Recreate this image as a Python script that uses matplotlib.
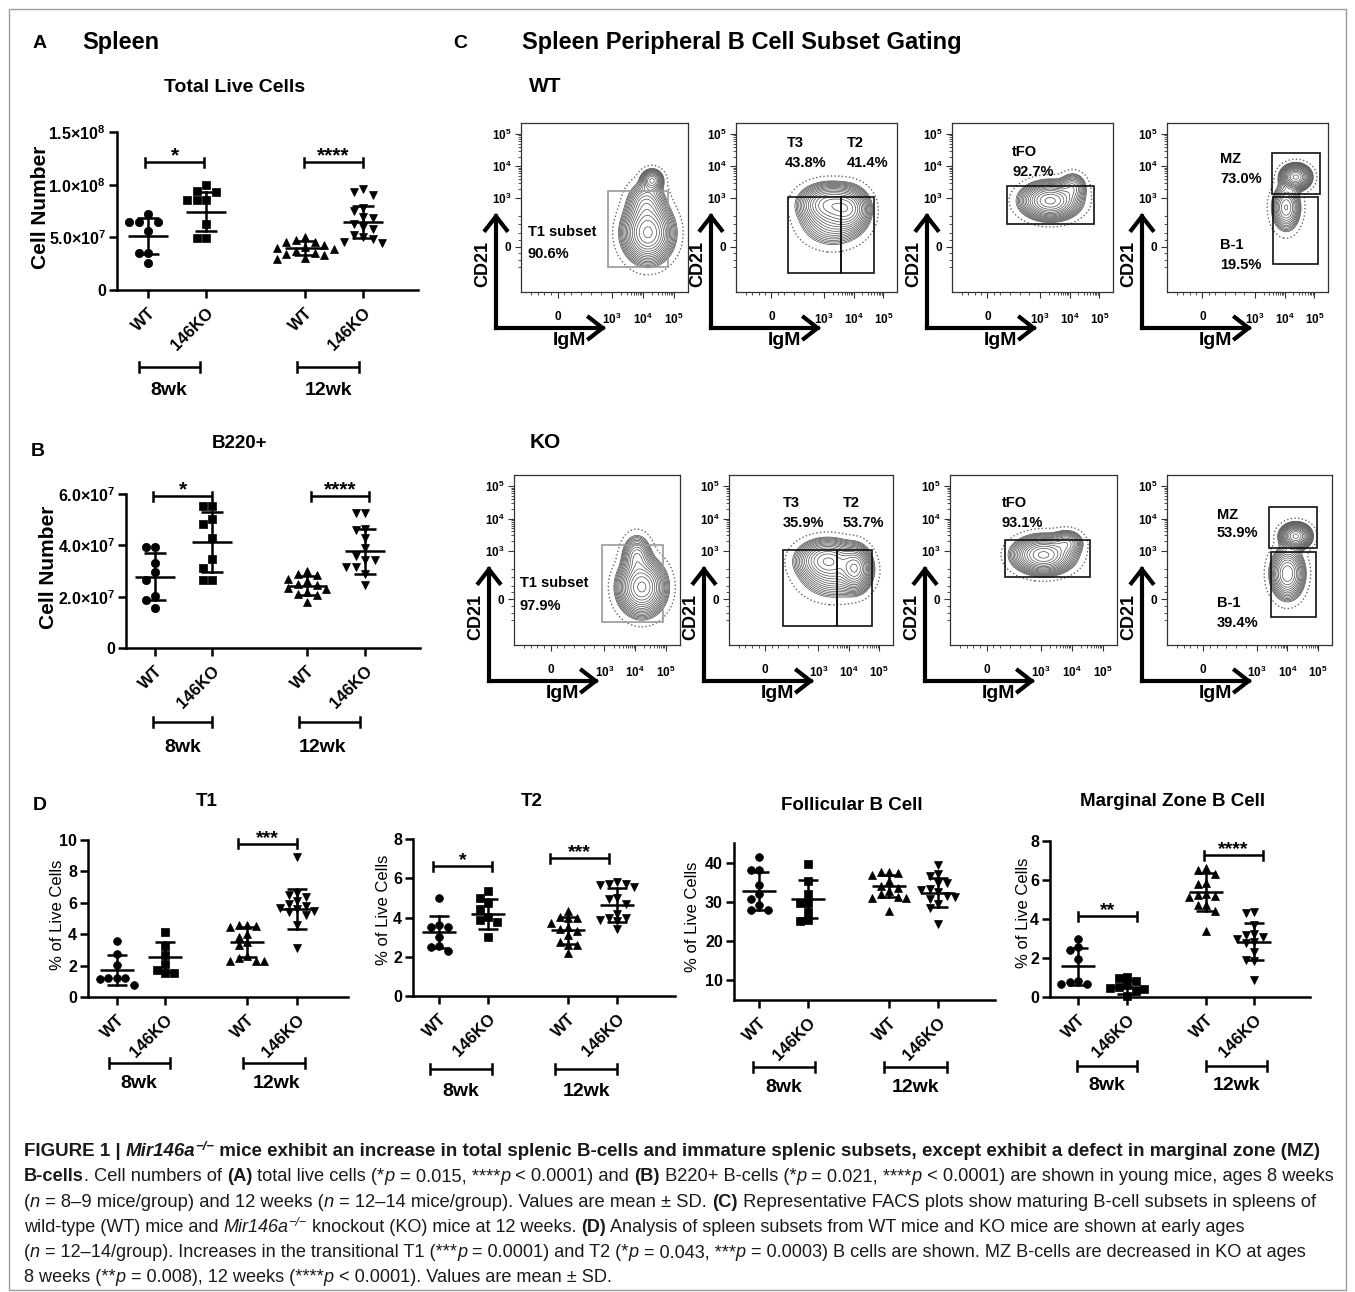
import numpy as np
import matplotlib
matplotlib.use('Agg')
import matplotlib.pyplot as plt
from matplotlib.lines import Line2D
from matplotlib.patches import Rectangle, FancyArrowPatch
from matplotlib import font_manager

# ---------------------------------------------------------------- data
genotypes = ['WT', '146KO', 'WT', '146KO']
ages = ['8wk', '12wk']

# Panel A : total live cells (units of 1e7 cells)
live_wt8 = [7.2, 6.5, 6.5, 6.5, 5.6, 3.5, 3.5, 2.6]
live_ko8 = [10.0, 9.4, 9.3, 8.5, 8.5, 8.5, 6.3, 4.9, 4.9]
live_wt12 = [5.0, 4.7, 4.6, 4.6, 4.3, 4.1, 4.0, 3.9, 3.7, 3.5, 3.4, 3.3, 3.0, 2.9]
live_ko12 = [9.6, 9.3, 9.0, 7.8, 7.5, 6.9, 6.8, 6.3, 6.0, 5.8, 5.2, 5.0, 4.8, 4.6, 4.5]
live_mean = [5.1, 7.45, 3.98, 6.44]
live_sd = [1.7, 1.85, 0.66, 1.5]

# Panel B : B220+ cells (units of 1e7 cells)
b220_wt8 = [3.92, 3.92, 3.33, 2.95, 2.63, 2.03, 1.88, 1.54]
b220_ko8 = [5.54, 5.54, 5.03, 4.83, 4.27, 3.46, 3.13, 2.63, 2.63]
b220_wt12 = [3.0, 2.9, 2.85, 2.7, 2.6, 2.5, 2.45, 2.35, 2.3, 2.2, 2.1, 2.05, 1.8]
b220_ko12 = [5.25, 5.25, 4.62, 4.6, 4.27, 3.89, 3.6, 3.43, 3.43, 3.17, 3.17, 2.9, 2.46]
b220_mean = [2.78, 4.12, 2.42, 3.76]
b220_sd = [0.92, 1.17, 0.37, 0.88]

# Panel D : % of live cells
t1_wt8 = [3.55, 2.72, 2.02, 1.21, 1.21, 1.21, 1.17, 0.74]
t1_ko8 = [4.15, 3.23, 2.66, 2.09, 1.74, 1.53, 1.53]
t1_wt12 = [4.6, 4.6, 4.55, 4.45, 4.0, 3.8, 3.5, 3.3, 2.6, 2.5, 2.3, 2.3, 2.3]
t1_ko12 = [8.9, 6.6, 6.5, 6.4, 6.1, 5.9, 5.8, 5.7, 5.6, 5.5, 5.4, 5.2, 4.6, 3.1]
t1_mean = [1.74, 2.55, 3.51, 5.6]
t1_sd = [0.95, 0.96, 0.94, 1.3]

t2_wt8 = [5.0, 3.64, 3.52, 3.52, 3.0, 2.54, 2.5, 2.28]
t2_ko8 = [5.35, 5.0, 4.75, 4.45, 4.05, 3.85, 3.75, 3.0]
t2_wt12 = [4.35, 4.05, 4.0, 3.95, 3.7, 3.5, 3.4, 3.3, 3.1, 2.75, 2.6, 2.6, 2.2]
t2_ko12 = [5.8, 5.7, 5.7, 5.65, 5.55, 5.0, 4.95, 4.7, 4.2, 4.0, 3.95, 3.85, 3.8, 3.4]
t2_mean = [3.27, 4.17, 3.35, 4.63]
t2_sd = [0.83, 0.75, 0.70, 0.85]

fo_wt8 = [41.5, 38.0, 38.0, 34.3, 31.9, 30.7, 29.3, 28.0, 28.0]
fo_ko8 = [39.6, 35.3, 32.1, 29.7, 29.7, 27.3, 25.3, 25.2]
fo_wt12 = [37.7, 37.6, 37.4, 36.8, 35.2, 34.0, 33.5, 32.8, 32.0, 31.3, 31.0, 30.9, 27.8]
fo_ko12 = [39.5, 37.0, 36.5, 34.9, 34.8, 33.2, 33.0, 32.5, 31.5, 31.3, 30.8, 29.5, 28.5, 24.3]
fo_mean = [32.7, 30.8, 34.0, 32.3]
fo_sd = [4.8, 4.9, 2.85, 3.7]

mz_wt8 = [3.0, 2.57, 2.4, 1.97, 0.8, 0.77, 0.68, 0.68]
mz_ko8 = [1.05, 0.95, 0.8, 0.6, 0.5, 0.45, 0.4, 0.3, 0.05]
mz_wt12 = [6.6, 6.5, 6.3, 5.85, 5.8, 5.3, 5.25, 5.2, 5.15, 4.7, 4.7, 4.4, 3.4]
mz_ko12 = [4.35, 4.3, 3.7, 3.25, 3.2, 3.1, 2.95, 2.8, 2.75, 2.3, 1.9, 1.85, 0.85]
mz_mean = [1.58, 0.51, 5.39, 2.83]
mz_sd = [0.94, 0.34, 0.98, 0.95]

# Panel C : FACS gating (density components: x, y, sx, sy, weight; axes fraction)
facs_wt = [
    dict(comps=[(0.76, 0.35, 0.068, 0.08, 1.0), (0.785, 0.66, 0.032, 0.032, 0.40), (0.75, 0.52, 0.055, 0.065, 0.30)],
         gates=[(0.52, 0.149, 0.88, 0.595)], gcol='#9a9a9a',
         labels=[(0.04, 0.355, 'T1 subset'), (0.04, 0.225, '90.6%')]),
    dict(comps=[(0.58, 0.52, 0.085, 0.055, 1.0), (0.70, 0.49, 0.06, 0.06, 0.8), (0.60, 0.42, 0.095, 0.07, 0.35)],
         gates=[(0.32, 0.113, 0.65, 0.565), (0.65, 0.113, 0.86, 0.565)], gcol='#111111',
         labels=[(0.317, 0.88, 'T3'), (0.305, 0.763, '43.8%'), (0.69, 0.88, 'T2'), (0.69, 0.763, '41.4%')]),
    dict(comps=[(0.61, 0.54, 0.082, 0.05, 1.0), (0.75, 0.62, 0.04, 0.04, 0.25)],
         gates=[(0.34, 0.405, 0.88, 0.625)], gcol='#111111',
         labels=[(0.373, 0.83, 'tFO'), (0.373, 0.71, '92.7%')]),
    dict(comps=[(0.80, 0.68, 0.042, 0.034, 1.0), (0.74, 0.50, 0.042, 0.065, 0.40)],
         gates=[(0.65, 0.577, 0.95, 0.82), (0.66, 0.167, 0.94, 0.56)], gcol='#111111',
         labels=[(0.33, 0.787, 'MZ'), (0.33, 0.669, '73.0%'), (0.33, 0.278, 'B-1'), (0.33, 0.16, '19.5%')]),
]
facs_ko = [
    dict(comps=[(0.77, 0.34, 0.065, 0.075, 1.0), (0.74, 0.52, 0.042, 0.06, 0.30)],
         gates=[(0.53, 0.135, 0.895, 0.59)], gcol='#9a9a9a',
         labels=[(0.036, 0.365, 'T1 subset'), (0.036, 0.23, '97.9%')]),
    dict(comps=[(0.60, 0.50, 0.085, 0.055, 0.8), (0.77, 0.45, 0.045, 0.06, 1.0), (0.64, 0.42, 0.10, 0.07, 0.30)],
         gates=[(0.33, 0.11, 0.66, 0.56), (0.66, 0.11, 0.87, 0.56)], gcol='#111111',
         labels=[(0.33, 0.835, 'T3'), (0.33, 0.718, '35.9%'), (0.695, 0.835, 'T2'), (0.695, 0.718, '53.7%')]),
    dict(comps=[(0.56, 0.53, 0.082, 0.05, 1.0), (0.70, 0.60, 0.045, 0.035, 0.30)],
         gates=[(0.33, 0.40, 0.84, 0.62)], gcol='#111111',
         labels=[(0.31, 0.835, 'tFO'), (0.31, 0.718, '93.1%')]),
    dict(comps=[(0.78, 0.64, 0.042, 0.034, 1.0), (0.73, 0.42, 0.048, 0.07, 0.6)],
         gates=[(0.62, 0.57, 0.91, 0.81), (0.63, 0.165, 0.905, 0.547)], gcol='#111111',
         labels=[(0.30, 0.765, 'MZ'), (0.30, 0.66, '53.9%'), (0.30, 0.247, 'B-1'), (0.30, 0.13, '39.4%')]),
]

# ---------------------------------------------------------------- setup
W, H, DPI = 1355, 1292, 100
plt.rcParams['font.family'] = ['Liberation Sans', 'DejaVu Sans']
plt.rcParams['mathtext.fontset'] = 'custom'
plt.rcParams['mathtext.rm'] = 'Liberation Sans'
plt.rcParams['mathtext.bf'] = 'Liberation Sans:bold'
plt.rcParams['mathtext.it'] = 'Liberation Sans:italic'

fig = plt.figure(figsize=(W / DPI, H / DPI), dpi=DPI)
renderer = fig.canvas.get_renderer()


def FX(x):
    return x / W


def FY(y):
    return 1 - y / H


def ftext(x, y, s, **kw):
    return fig.text(FX(x), FY(y), s, **kw)


def add_ax(x0, y0, x1, y1):
    return fig.add_axes([FX(x0), FY(y1), (x1 - x0) / W, (y1 - y0) / H])


def fline(xs, ys, **kw):
    fig.add_artist(Line2D([FX(x) for x in xs], [FY(y) for y in ys],
                          transform=fig.transFigure, **kw))


# outer frame
fig.add_artist(Rectangle((FX(9), FY(1290)), (1346 - 9) / W, (1290 - 9) / H,
                         transform=fig.transFigure, fill=False, ec='#9a9a9a', lw=1.0))


def swarm(vals, ppu, d):
    order = np.argsort(-vals, kind='stable')
    placed = []
    offs = np.zeros(len(vals))
    for i in order:
        y = vals[i] * ppu
        xo = 0.0
        for k in [0, -1, 1, -2, 2, -3, 3, -4, 4]:
            xo = k * d
            if all((xo - px) ** 2 + (y - py) ** 2 >= (0.92 * d) ** 2 for px, py in placed):
                break
        placed.append((xo, y))
        offs[i] = xo
    return offs


def dot_panel(box, cat_px, data, means, sds, ylim, yticks, yticklabels, ms, d_px,
              tick_fs, xt_fs, mean_hw, cap_hw, sigs, gbars, title, ylabel, ylab_fs,
              ylab_w, star_fs=15):
    x0, y0, x1, y1 = box
    ax = add_ax(x0, y0, x1, y1)
    ax.set_xlim(x0, x1)
    ax.set_ylim(*ylim)
    ppu = (y1 - y0) / (ylim[1] - ylim[0])
    markers = ['o', 's', '^', 'v']
    msz = [ms, ms * 0.92, ms, ms]
    for i, vals in enumerate(data):
        vals = np.asarray(vals, float)
        offs = swarm(vals, ppu, d_px)
        ax.plot(cat_px[i] + offs, vals, ls='none', marker=markers[i], ms=msz[i],
                color='black', mec='black', mew=0.5, zorder=3, clip_on=False)
        m, s = means[i], sds[i]
        c = cat_px[i]
        ax.plot([c - mean_hw, c + mean_hw], [m, m], color='black', lw=1.8, zorder=4,
                solid_capstyle='butt')
        ax.plot([c, c], [m - s, m + s], color='black', lw=1.8, zorder=4)
        for yy in (m - s, m + s):
            ax.plot([c - cap_hw, c + cap_hw], [yy, yy], color='black', lw=1.8, zorder=4,
                    solid_capstyle='butt')
    for sp in ('top', 'right'):
        ax.spines[sp].set_visible(False)
    for sp in ('left', 'bottom'):
        ax.spines[sp].set_linewidth(1.8)
    ax.set_yticks(yticks)
    ax.set_yticklabels(yticklabels, fontsize=tick_fs, fontweight='bold')
    ax.set_xticks(cat_px)
    ax.set_xticklabels(genotypes, rotation=45, ha='right', va='top',
                       rotation_mode='anchor', fontsize=xt_fs, fontweight='bold')
    ax.tick_params(axis='both', length=6, width=1.8, pad=2)
    ax.tick_params(axis='x', pad=5)
    ax.patch.set_alpha(0)
    # significance bars
    for (xa, xb, yv, stars) in sigs:
        cap = 4.5 / ppu
        ax.plot([xa, xb], [yv, yv], color='black', lw=1.8, clip_on=False,
                solid_capstyle='butt')
        for xx in (xa, xb):
            ax.plot([xx, xx], [yv - cap, yv + cap], color='black', lw=1.8, clip_on=False)
        ax.text((xa + xb) / 2, yv + 1.0 / ppu, stars, ha='center', va='baseline',
                fontsize=star_fs, fontweight='bold', clip_on=False)
    # age group bars
    for (ga, gb, gy, lab, lx, ly) in gbars:
        fline([ga, gb], [gy, gy], color='black', lw=1.8, solid_capstyle='butt')
        for xx in (ga, gb):
            fline([xx, xx], [gy - 5, gy + 5], color='black', lw=1.8)
        ftext(lx, ly, lab, ha='center', va='center', fontsize=14, fontweight='bold')
    t, tx, ty, tfs = title
    ftext(tx, ty, t, ha='center', va='center', fontsize=tfs, fontweight='bold')
    lt, lx, ly = ylabel
    ftext(lx, ly, lt, ha='center', va='center', rotation=90, fontsize=ylab_fs,
          fontweight=ylab_w)
    return ax


def sci(m, e):
    return r'$\mathbf{%s{\times}10^{%d}}$' % (m, e)


# ---------------------------------------------------------------- panel A
ftext(40, 43, 'A', ha='center', va='center', fontsize=14, fontweight='bold')
ftext(82, 43, 'Spleen', ha='left', va='center', fontsize=17, fontweight='bold')
dot_panel((117, 132, 418, 290), [148, 206, 305, 363],
          [np.array(v) * 1e7 for v in (live_wt8, live_ko8, live_wt12, live_ko12)],
          np.array(live_mean) * 1e7, np.array(live_sd) * 1e7,
          (0, 1.5e8), [0, 5e7, 1e8, 1.5e8], ['0', sci('5.0', 7), sci('1.0', 8), sci('1.5', 8)],
          6.0, 9.5, 11.5, 12, 20, 11,
          [(145, 204, 1.215e8, '*'), (304, 363, 1.215e8, '****')],
          [(139, 200, 367, ages[0], 169, 391), (297, 359, 367, ages[1], 328, 391)],
          ('Total Live Cells', 235, 88, 14), ('Cell Number', 40, 207), 15, 'bold')

# ---------------------------------------------------------------- panel B
ftext(38, 451, 'B', ha='center', va='center', fontsize=14, fontweight='bold')
dot_panel((126, 494, 420, 648), [155, 212, 307, 365],
          [np.array(v) * 1e7 for v in (b220_wt8, b220_ko8, b220_wt12, b220_ko12)],
          np.array(b220_mean) * 1e7, np.array(b220_sd) * 1e7,
          (0, 6e7), [0, 2e7, 4e7, 6e7], ['0', sci('2.0', 7), sci('4.0', 7), sci('6.0', 7)],
          6.0, 9.5, 11.5, 12, 20, 11,
          [(153, 212, 5.92e7, '*'), (311, 369, 5.92e7, '****')],
          [(153, 212, 722, ages[0], 183, 747), (299, 360, 722, ages[1], 323, 747)],
          ('B220+', 240, 444, 13.5), ('Cell Number', 48, 567), 15, 'bold')

# ---------------------------------------------------------------- panel D
ftext(40, 806, 'D', ha='center', va='center', fontsize=14, fontweight='bold')
dkw = dict(ms=5.6, d_px=8.5, tick_fs=11.5, xt_fs=12, mean_hw=17, cap_hw=10,
           ylab_fs=12, ylab_w='normal', star_fs=14)
dot_panel((88, 840, 348, 997), [117, 165, 247, 297],
          [t1_wt8, t1_ko8, t1_wt12, t1_ko12], t1_mean, t1_sd,
          (0, 10), [0, 2, 4, 6, 8, 10], ['0', '2', '4', '6', '8', '10'],
          sigs=[(238, 297, 9.75, '***')],
          gbars=[(109, 170, 1063, ages[0], 139, 1084), (243, 305, 1063, ages[1], 276, 1084)],
          title=('T1', 207, 802, 13.5), ylabel=('% of Live Cells', 57, 915), **dkw)
dot_panel((413, 839, 675, 996), [439, 488, 568, 617],
          [t2_wt8, t2_ko8, t2_wt12, t2_ko12], t2_mean, t2_sd,
          (0, 8), [0, 2, 4, 6, 8], ['0', '2', '4', '6', '8'],
          sigs=[(433, 492, 6.62, '*'), (550, 609, 7.03, '***')],
          gbars=[(430, 492, 1069, ages[0], 461, 1091), (555, 617, 1069, ages[1], 586, 1091)],
          title=('T2', 532, 802, 13.5), ylabel=('% of Live Cells', 383, 910), **dkw)
dot_panel((734, 843, 995, 1000), [759, 808, 889, 938],
          [fo_wt8, fo_ko8, fo_wt12, fo_ko12], fo_mean, fo_sd,
          (5, 45), [10, 20, 30, 40], ['10', '20', '30', '40'],
          sigs=[],
          gbars=[(753, 815, 1067, ages[0], 784, 1088), (884, 947, 1067, ages[1], 916, 1088)],
          title=('Follicular B Cell', 852, 806, 13.5), ylabel=('% of Live Cells', 693, 917), **dkw)
dot_panel((1050, 841, 1310, 997), [1078, 1127, 1206, 1254],
          [mz_wt8, mz_ko8, mz_wt12, mz_ko12], mz_mean, mz_sd,
          (0, 8), [0, 2, 4, 6, 8], ['0', '2', '4', '6', '8'],
          sigs=[(1078, 1137, 4.15, '**'), (1204, 1263, 7.28, '****')],
          gbars=[(1077, 1137, 1066, ages[0], 1107, 1086), (1206, 1267, 1066, ages[1], 1237, 1086)],
          title=('Marginal Zone B Cell', 1173, 802, 13.5), ylabel=('% of Live Cells', 1023, 913), **dkw)

# ---------------------------------------------------------------- panel C
ftext(460, 43, 'C', ha='center', va='center', fontsize=14, fontweight='bold')
ftext(522, 43, 'Spleen Peripheral B Cell Subset Gating', ha='left', va='center',
      fontsize=17, fontweight='bold')
ftext(545, 87, 'WT', ha='center', va='center', fontsize=15, fontweight='bold')
ftext(545, 443, 'KO', ha='center', va='center', fontsize=15, fontweight='bold')

fy_major = [0.268, 0.554, 0.744, 0.935]
fy_labels = ['0', r'$\mathbf{10^{3}}$', r'$\mathbf{10^{4}}$', r'$\mathbf{10^{5}}$']
fx_major = [0.22, 0.545, 0.73, 0.915]


def decade_minor(a, b):
    return [a + (b - a) * np.log10(k) for k in range(2, 10)]


fy_minor = [0.15, 0.19, 0.23, 0.31, 0.35, 0.40, 0.45] + decade_minor(0.554, 0.744) + decade_minor(0.744, 0.935)
fx_minor = [0.06, 0.10, 0.14, 0.18, 0.26, 0.30, 0.36, 0.42, 0.48] + decade_minor(0.545, 0.73) + decade_minor(0.73, 0.915)

grid = np.linspace(0, 1, 300)
GX, GY = np.meshgrid(grid, grid)


def facs_plot(box, spec):
    x0, y0, x1, y1 = box
    ax = add_ax(x0, y0, x1, y1)
    Z = np.zeros_like(GX)
    for (cx, cy, sx, sy, w) in spec['comps']:
        Z += w * np.exp(-0.5 * (((GX - cx) / sx) ** 2 + ((GY - cy) / sy) ** 2))
    Z /= Z.max()
    ax.contour(GX, GY, Z, levels=np.geomspace(0.035, 0.93, 16), colors='#4a4a4a',
               linewidths=0.5)
    ax.contour(GX, GY, Z, levels=[0.008], colors='#666666', linewidths=1.0,
               linestyles=':')
    for (gx0, gy0, gx1, gy1) in spec['gates']:
        ax.add_patch(Rectangle((gx0, gy0), gx1 - gx0, gy1 - gy0, fill=False,
                               ec=spec['gcol'], lw=1.2, zorder=5))
    for (tx, ty, s) in spec['labels']:
        ax.text(tx, ty, s, transform=ax.transAxes, fontsize=10.5, fontweight='bold',
                ha='left', va='center', zorder=6)
    ax.set_xlim(0, 1)
    ax.set_ylim(0, 1)
    ax.set_yticks(fy_major)
    ax.set_yticklabels(fy_labels, fontsize=8.5, fontweight='bold')
    ax.set_yticks(fy_minor, minor=True)
    ax.set_xticks(fx_major)
    ax.set_xticklabels(fy_labels, fontsize=8.5, fontweight='bold')
    ax.set_xticks(fx_minor, minor=True)
    ax.tick_params(axis='both', which='major', length=4, width=0.8, color='#333333')
    ax.tick_params(axis='both', which='minor', length=2, width=0.6, color='#333333')
    ax.tick_params(axis='x', which='major', pad=10)
    ax.tick_params(axis='y', which='major', pad=3)
    for sp in ax.spines.values():
        sp.set_linewidth(0.9)
        sp.set_color('#333333')
    # axis arrows
    cx_, cy_ = x0 - 25, y1 + 36
    for (ex, ey) in [(cx_, y1 - 79), (cx_ + 110, cy_)]:
        arr = FancyArrowPatch((FX(cx_), FY(cy_)), (FX(ex), FY(ey)),
                              transform=fig.transFigure,
                              arrowstyle='->,head_length=0.45,head_width=0.35',
                              mutation_scale=22, lw=3, color='black',
                              shrinkA=0, shrinkB=0, capstyle='projecting',
                              joinstyle='miter')
        fig.add_artist(arr)
    ftext(cx_ - 13, y1 - 28, 'CD21', ha='center', va='center', rotation=90,
          fontsize=13, fontweight='bold')
    ftext(cx_ + 73, cy_ + 13, 'IgM', ha='center', va='center', fontsize=14,
          fontweight='bold')


wt_boxes = [(521, 123, 688, 292), (736, 123, 897, 292), (952, 123, 1113, 292), (1167, 123, 1328, 292)]
ko_boxes = [(514, 475, 680, 645), (729, 475, 893, 645), (950, 475, 1117, 645), (1167, 475, 1332, 645)]
for b, s in zip(wt_boxes, facs_wt):
    facs_plot(b, s)
for b, s in zip(ko_boxes, facs_ko):
    facs_plot(b, s)

# ---------------------------------------------------------------- caption
names = {f.name for f in font_manager.fontManager.ttflist}
capfam = 'Liberation Sans Narrow' if 'Liberation Sans Narrow' in names else 'Liberation Sans'

cap_lines = [
    [("FIGURE 1 | ", 'b'), ("Mir146a", 'bi'), ("\u2212/\u2212", 'bis'),
     (" mice exhibit an increase in total splenic B-cells and immature splenic subsets, except exhibit a defect in marginal zone (MZ)", 'b')],
    [("B-cells", 'b'), (". Cell numbers of ", ''), ("(A)", 'b'), (" total live cells (*", ''), ("p", 'i'),
     (" = 0.015, ****", ''), ("p", 'i'), (" < 0.0001) and ", ''), ("(B)", 'b'), (" B220+ B-cells (*", ''),
     ("p", 'i'), (" = 0.021, ****", ''), ("p", 'i'), (" < 0.0001) are shown in young mice, ages 8 weeks", '')],
    [("(", ''), ("n", 'i'), (" = 8\u20139 mice/group) and 12 weeks (", ''), ("n", 'i'),
     (" = 12\u201314 mice/group). Values are mean \u00b1 SD. ", ''), ("(C)", 'b'),
     (" Representative FACS plots show maturing B-cell subsets in spleens of", '')],
    [("wild-type (WT) mice and ", ''), ("Mir146a", 'i'), ("\u2212/\u2212", 'is'),
     (" knockout (KO) mice at 12 weeks. ", ''), ("(D)", 'b'),
     (" Analysis of spleen subsets from WT mice and KO mice are shown at early ages", '')],
    [("(", ''), ("n", 'i'), (" = 12\u201314/group). Increases in the transitional T1 (***", ''), ("p", 'i'),
     (" = 0.0001) and T2 (*", ''), ("p", 'i'), (" = 0.043, ***", ''), ("p", 'i'),
     (" = 0.0003) B cells are shown. MZ B-cells are decreased in KO at ages", '')],
    [("8 weeks (**", ''), ("p", 'i'), (" = 0.008), 12 weeks (****", ''), ("p", 'i'),
     (" < 0.0001). Values are mean \u00b1 SD.", '')],
]
cap_right = [1318, 1333, 1318, 1250, 1310, 612]


def style_kw(flags, size):
    kw = dict(family=[capfam, 'DejaVu Sans'], fontsize=size * (0.7 if 's' in flags else 1.0),
              fontweight='bold' if 'b' in flags else 'normal',
              fontstyle='italic' if 'i' in flags else 'normal', color='#1a1a1a')
    return kw


def run_width(s, flags, size):
    kw = style_kw(flags, size)
    t1 = fig.text(0, 0, '|' + s + '|', **kw)
    t2 = fig.text(0, 0, '||', **kw)
    w = t1.get_window_extent(renderer).width - t2.get_window_extent(renderer).width
    t1.remove()
    t2.remove()
    return w


def line_width(runs, size):
    return sum(run_width(s, f, size) for s, f in runs)


base_size = 12.0
for k, runs in enumerate(cap_lines):
    wk = line_width(runs, base_size)
    size = base_size * (cap_right[k] - 24) / wk
    x = 24.0
    yb = 1156 + 25.3 * k
    for s, f in runs:
        kw = style_kw(f, size)
        dy = -6 if 's' in f else 0
        ftext(x, yb + dy, s, ha='left', va='baseline', **kw)
        x += run_width(s, f, size)

fig.savefig('out.png', dpi=DPI)
